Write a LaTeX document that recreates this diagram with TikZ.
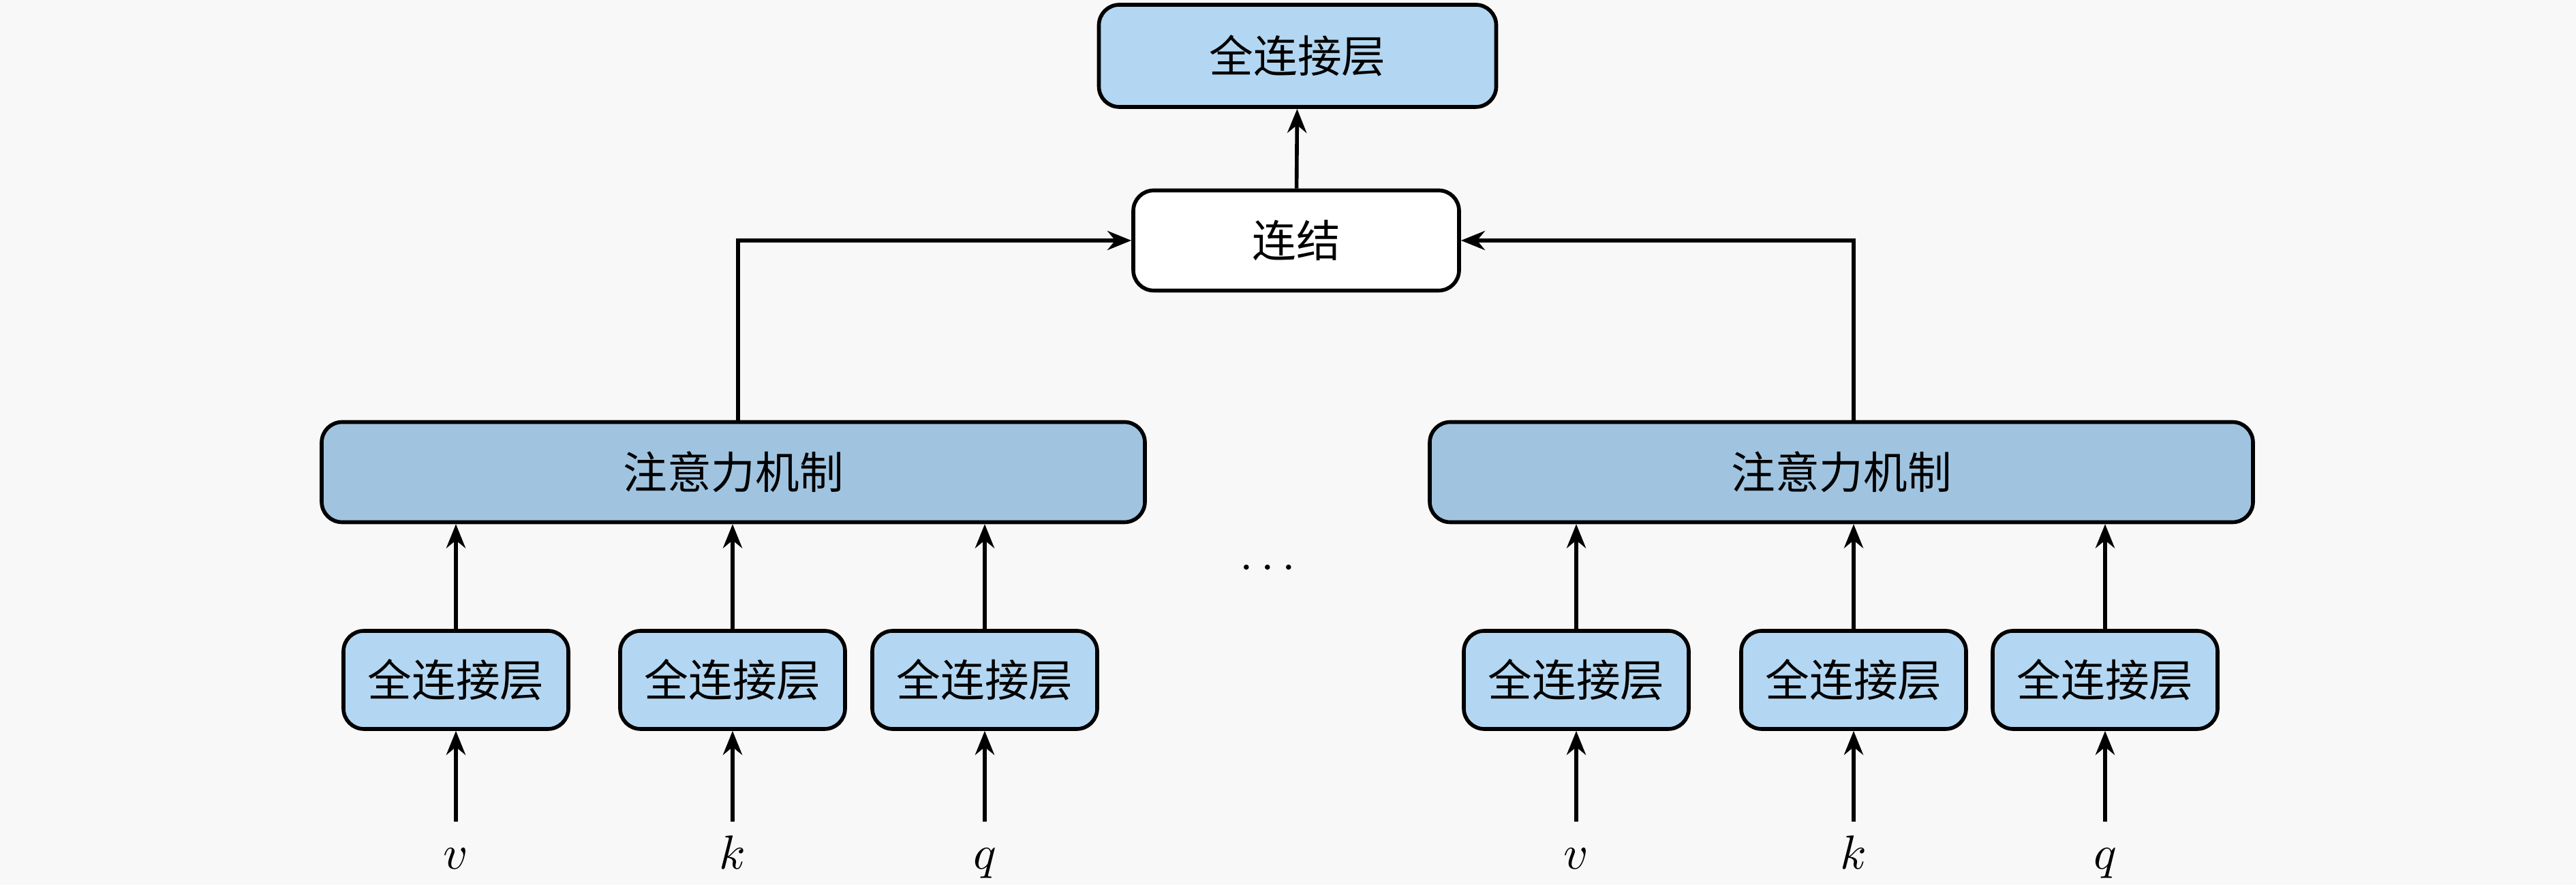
\documentclass[tikz,border=0pt]{standalone}
\usepackage{fontspec}
\newfontfamily\cjk{Noto Sans CJK SC}
\usetikzlibrary{positioning, arrows.meta}
\definecolor{fcblue}{RGB}{179,215,242}
\definecolor{attblue}{RGB}{160,196,224}
\definecolor{bggray}{RGB}{248,248,248}

\begin{document}
\begin{tikzpicture}[
    every node/.style={font=\cjk\fontsize{9.2}{11}\selectfont},
    box/.style={rectangle, draw, thick, rounded corners=1.5mm, align=center},
    fc/.style={box, fill=fcblue, minimum width=1.65cm, minimum height=0.72cm},
    att/.style={box, fill=attblue, minimum width=6.04cm, minimum height=0.735cm},
    input/.style={font=\fontsize{10}{12}\selectfont, text height=1.5ex, text depth=0.5ex, anchor=base},
    arrow/.style={-{Stealth[length=5pt, width=4pt]}, thick}
]
\fill [bggray] (0,0) rectangle (18.9,6.495);
\useasboundingbox (0,0) rectangle (18.9,6.495);

\node (fullconn) [fc, minimum width=2.915cm, minimum height=0.75cm] at (9.52,6.085) {全连接层};
\node (concat) [box, fill=white, minimum width=2.39cm, minimum height=0.735cm] at (9.51,4.73) {连结};

\node (attentionL) [att] at (5.38,3.03) {注意力机制};
\node (attentionR) [att] at (13.51,3.03) {注意力机制};

\node (fcvL) [fc] at (3.345,1.505) {全连接层};
\node (fckL) [fc] at (5.375,1.505) {全连接层};
\node (fcqL) [fc] at (7.225,1.505) {全连接层};
\node (fcvR) [fc] at (11.565,1.505) {全连接层};
\node (fckR) [fc] at (13.6,1.505) {全连接层};
\node (fcqR) [fc] at (15.445,1.505) {全连接层};

\node (vL) [input] at (3.345,0.115) {$v$};
\node (kL) [input] at (5.375,0.115) {$k$};
\node (qL) [input] at (7.225,0.115) {$q$};
\node (vR) [input] at (11.565,0.115) {$v$};
\node (kR) [input] at (13.6,0.115) {$k$};
\node (qR) [input] at (15.445,0.115) {$q$};

\node (dots) [font=\fontsize{10}{12}\selectfont] at (9.3,2.32) {$\cdots$};

\draw [arrow] (vL) -- (fcvL);
\draw [arrow] (kL) -- (fckL);
\draw [arrow] (qL) -- (fcqL);
\draw [arrow] (vR) -- (fcvR);
\draw [arrow] (kR) -- (fckR);
\draw [arrow] (qR) -- (fcqR);
\draw [arrow] (fcvL) -- (fcvL |- attentionL.south);
\draw [arrow] (fckL) -- (fckL |- attentionL.south);
\draw [arrow] (fcqL) -- (fcqL |- attentionL.south);
\draw [arrow] (fcvR) -- (fcvR |- attentionR.south);
\draw [arrow] (fckR) -- (fckR |- attentionR.south);
\draw [arrow] (fcqR) -- (fcqR |- attentionR.south);
\draw [arrow] ([xshift=0.4mm] fckL |- attentionL.north) |- (concat);
\draw [arrow] (fckR |- attentionR.north) |- (concat);
\draw [arrow] (concat) -- (fullconn);
\end{tikzpicture}
\end{document}
